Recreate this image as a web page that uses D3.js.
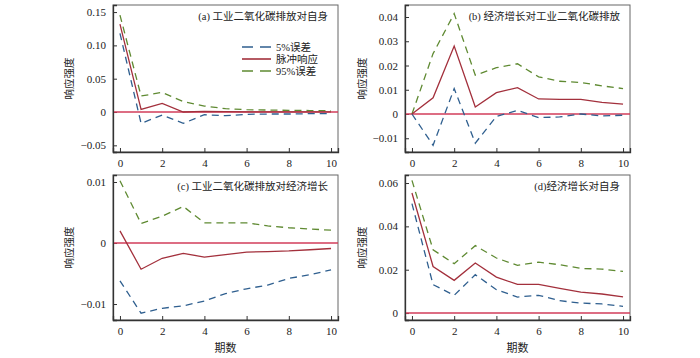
<!DOCTYPE html>
<html><head><meta charset="utf-8">
<script src="https://cdn.jsdelivr.net/npm/d3@7"></script>
<style>body{margin:0;background:#fff}svg{display:block}</style>
</head><body>
<svg id="c" width="700" height="358"></svg>
<script>
const periods = [0,1,2,3,4,5,6,7,8,9,10];
const seriesNames = ["5%误差","脉冲响应","95%误差"];
// (a) 工业二氧化碳排放对自身
const aLow  = [0.118,-0.017,-0.0045,-0.017,-0.004,-0.0055,-0.0035,-0.003,-0.003,-0.0025,-0.0025];
const aMid  = [0.132,0.004,0.013,0.0,0.001,0.0005,0.0003,0.0002,0.0002,0.0001,0.0001];
const aHigh = [0.1455,0.024,0.0295,0.0155,0.009,0.005,0.0035,0.003,0.0025,0.0022,0.002];
// (b) 经济增长对工业二氧化碳排放
const bLow  = [0,-0.0129,0.0105,-0.012,-0.001,0.0015,-0.0015,-0.0012,0,-0.0008,-0.0005];
const bMid  = [0,0.0067,0.028,0.0029,0.0088,0.0109,0.0062,0.006,0.006,0.0048,0.0041];
const bHigh = [0,0.0249,0.0414,0.016,0.0191,0.0207,0.0153,0.0135,0.013,0.0116,0.0105];
// (c) 工业二氧化碳排放对经济增长
const cLow  = [-0.0062,-0.0115,-0.0107,-0.0103,-0.0095,-0.0083,-0.0075,-0.0069,-0.0058,-0.0052,-0.0044];
const cMid  = [0.002,-0.0043,-0.0025,-0.0017,-0.0023,-0.0019,-0.0015,-0.0014,-0.0013,-0.0011,-0.0009];
const cHigh = [0.0102,0.0032,0.0044,0.006,0.0033,0.0033,0.0033,0.0028,0.0025,0.0023,0.0021];
// (d) 经济增长对自身
const dLow  = [0.0505,0.0131,0.0082,0.0177,0.0108,0.0074,0.0082,0.0057,0.0046,0.0042,0.0031];
const dMid  = [0.0554,0.0215,0.0151,0.0231,0.0166,0.0132,0.0132,0.0114,0.0097,0.0088,0.0075];
const dHigh = [0.0612,0.0292,0.0228,0.0311,0.0254,0.022,0.0235,0.0223,0.0206,0.0203,0.0192];

const titles = ["(a) 工业二氧化碳排放对自身","(b) 经济增长对工业二氧化碳排放","(c) 工业二氧化碳排放对经济增长","(d)经济增长对自身"];
const yTicksA = [-0.05,0,0.05,0.10,0.15];
const yTicksB = [-0.01,0,0.01,0.02,0.03,0.04];
const yTicksC = [-0.01,0,0.01];
const yTicksD = [0,0.02,0.04,0.06];
const xTicks = [0,2,4,6,8,10];
const yLabel = "响应强度";
const xLabel = "期数";

const fmtA = v => v===0 ? "0" : (v<0?"−":"") + Math.abs(v).toFixed(2);

const panels = [
  {x0:113,x1:338,y0:5,y1:152,dom:[-0.06,0.1606],ticks:yTicksA,fmt:fmtA,low:aLow,mid:aMid,high:aHigh,title:titles[0],legend:true,ylabX:73},
  {x0:405,x1:630,y0:5,y1:152,dom:[-0.01567,0.04495],ticks:yTicksB,fmt:fmtA,low:bLow,mid:bMid,high:bHigh,title:titles[1],ylabX:366},
  {x0:113,x1:338,y0:175,y1:320,dom:[-0.01262,0.01115],ticks:yTicksC,fmt:fmtA,low:cLow,mid:cMid,high:cHigh,title:titles[2],ylabX:73,xlab:true},
  {x0:405,x1:630,y0:175,y1:320,dom:[-0.0032,0.0637],ticks:yTicksD,fmt:fmtA,low:dLow,mid:dMid,high:dHigh,title:titles[3],ylabX:366,xlab:true}
];

const colors = {low:"#2f5f8f", mid:"#a3303c", high:"#5f8a32", zero:"#d23c5a"};
const numFont = "'Liberation Serif','DejaVu Serif',serif";
const cjkFont = "'Liberation Serif','Noto Sans CJK SC',serif";

const svg = d3.select("#c");

panels.forEach(p => {
  const x = d3.scaleLinear().domain([-0.33,10.33]).range([p.x0,p.x1]);
  const y = d3.scaleLinear().domain(p.dom).range([p.y1,p.y0]);
  const g = svg.append("g");
  g.append("rect").attr("x",p.x0).attr("y",p.y0).attr("width",p.x1-p.x0).attr("height",p.y1-p.y0)
    .attr("fill","none").attr("stroke","#666").attr("stroke-width",1);
  const ax = g.append("g").attr("transform",`translate(0,${p.y1})`)
    .call(d3.axisBottom(x).tickValues(xTicks).tickSize(-4).tickPadding(7).tickFormat(d3.format("d")));
  const ay = g.append("g").attr("transform",`translate(${p.x0},0)`)
    .call(d3.axisLeft(y).tickValues(p.ticks).tickSize(-4).tickPadding(7).tickFormat(p.fmt));
  [ax,ay].forEach(a=>{
    a.select(".domain").attr("stroke","#333").attr("stroke-width",1.3);
    a.selectAll(".tick line").attr("stroke","#333");
    a.selectAll("text").attr("font-family",numFont).attr("font-size",11).attr("fill","#222");
  });
  g.append("line").attr("x1",p.x0+1).attr("x2",p.x1).attr("y1",y(0)).attr("y2",y(0))
    .attr("stroke",colors.zero).attr("stroke-width",1.6);
  const line = d3.line().x((d,i)=>x(periods[i])).y(d=>y(d));
  g.append("path").datum(p.high).attr("d",line).attr("fill","none").attr("stroke",colors.high).attr("stroke-width",1.3).attr("stroke-dasharray","7,5");
  g.append("path").datum(p.low).attr("d",line).attr("fill","none").attr("stroke",colors.low).attr("stroke-width",1.3).attr("stroke-dasharray","7,5");
  g.append("path").datum(p.mid).attr("d",line).attr("fill","none").attr("stroke",colors.mid).attr("stroke-width",1.3);
  g.append("text").attr("x",p.x1-10).attr("y",p.y0+15).attr("text-anchor","end")
    .attr("font-family",cjkFont).attr("font-size",10.5).attr("fill","#222").text(p.title);
  const cy = (p.y0+p.y1)/2;
  g.append("text").attr("transform",`translate(${p.ylabX},${cy}) rotate(-90)`).attr("text-anchor","middle")
    .attr("font-family",cjkFont).attr("font-size",10.5).attr("fill","#222").text(yLabel);
  if (p.xlab) {
    g.append("text").attr("x",(p.x0+p.x1)/2).attr("y",352).attr("text-anchor","middle")
      .attr("font-family",cjkFont).attr("font-size",11).attr("fill","#222").text(xLabel);
  }
  if (p.legend) {
    const items = [{n:seriesNames[0],c:colors.low,d:"11,7"},{n:seriesNames[1],c:colors.mid,d:null},{n:seriesNames[2],c:colors.high,d:"11,7"}];
    items.forEach((it,i)=>{
      const ly = 47 + i*12;
      g.append("line").attr("x1",242).attr("x2",271).attr("y1",ly).attr("y2",ly)
        .attr("stroke",it.c).attr("stroke-width",1.6).attr("stroke-dasharray",it.d);
      g.append("text").attr("x",276).attr("y",ly+4).attr("font-family",cjkFont).attr("font-size",10.5)
        .attr("fill","#222").text(it.n);
    });
  }
});
</script>
</body></html>
